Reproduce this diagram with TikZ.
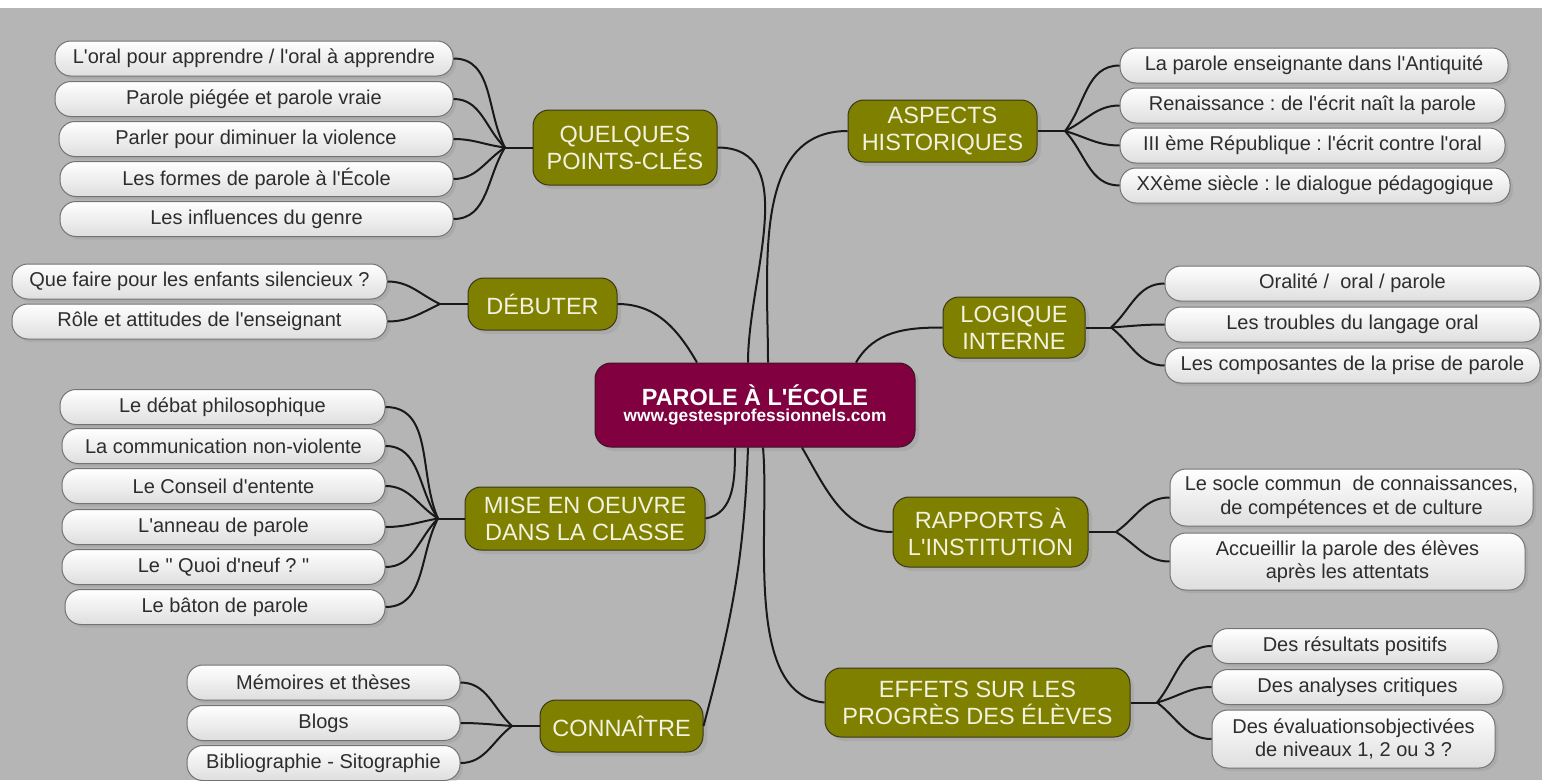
\documentclass[tikz,border=0pt]{standalone}
\usepackage{fontspec}
\setmainfont{Liberation Sans}[Ligatures=TeXOff]
\usetikzlibrary{shadows}
\frenchspacing

\definecolor{bggray}{RGB}{181,181,181}
\definecolor{branchfill}{RGB}{128,128,0}
\definecolor{branchline}{RGB}{55,55,25}
\definecolor{branchtext}{RGB}{242,242,225}
\definecolor{hubfill}{RGB}{128,0,64}
\definecolor{hubline}{RGB}{60,20,35}
\definecolor{leafline}{RGB}{115,115,115}
\definecolor{leafbottom}{RGB}{222,222,222}
\definecolor{leaftext}{RGB}{45,45,45}
\definecolor{linkcol}{RGB}{25,25,25}

\tikzset{
  leaf/.style={draw=leafline, line width=1pt, rounded corners=16pt,
    top color=white, bottom color=leafbottom, text=leaftext,
    font=\fontsize{20}{23.5}\selectfont, align=center, inner sep=0pt,
    minimum height=35pt,
    drop shadow={shadow xshift=3pt, shadow yshift=-3pt, opacity=.2}},
  branch/.style={fill=branchfill, draw=branchline, line width=1pt,
    rounded corners=16pt, text=branchtext,
    font=\fontsize{23.5}{27}\selectfont, align=center, inner sep=0pt,
    drop shadow={shadow xshift=4pt, shadow yshift=-4pt, opacity=.2}},
  hub/.style={fill=hubfill, draw=hubline, line width=1pt,
    rounded corners=16pt, text=white, align=center, inner sep=0pt,
    font=\bfseries\fontsize{17.3}{16.5}\selectfont,
    drop shadow={shadow xshift=4pt, shadow yshift=-4pt, opacity=.2}},
  link/.style={draw=linkcol, line width=2pt}
}

\begin{document}
\begin{tikzpicture}[x=1pt,y=-1pt]
  \useasboundingbox (0,0) rectangle (1542,780);
  \fill[bggray] (0,8) rectangle (1542,780);

  % centre
  \node[hub, minimum width=320pt, minimum height=84pt] (pe) at (755,405)
    {{\fontsize{23.4}{16.5}\selectfont PAROLE À L'ÉCOLE}\\www.gestesprofessionnels.com};

  % branches
  \node[branch, minimum width=184pt, minimum height=75pt] (pk) at (625,147.5) {QUELQUES\\POINTS-CLÉS};
  \node[branch, minimum width=149pt, minimum height=52pt] (deb) at (542.5,304) {DÉBUTER};
  \node[branch, minimum width=240pt, minimum height=63pt] (mo) at (585,518.5) {MISE EN OEUVRE\\DANS LA CLASSE};
  \node[branch, minimum width=163pt, minimum height=52pt] (con) at (621.5,726) {CONNAÎTRE};
  \node[branch, minimum width=189pt, minimum height=62pt] (ah) at (942.5,131) {ASPECTS\\HISTORIQUES};
  \node[branch, minimum width=142pt, minimum height=61pt] (li) at (1014,327.5) {LOGIQUE\\INTERNE};
  \node[branch, minimum width=195pt, minimum height=70pt] (ri) at (990.5,532) {RAPPORTS À\\L'INSTITUTION};
  \node[branch, minimum width=305pt, minimum height=69pt] (ep) at (977.5,702.5) {EFFETS SUR LES\\PROGRÈS DES ÉLÈVES};

  % leaves, left
  \node[leaf, minimum width=398pt] (pk1) at (254,58.5) {L'oral pour apprendre / l'oral à apprendre};
  \node[leaf, minimum width=398pt] (pk2) at (254,99) {Parole piégée et parole vraie};
  \node[leaf, minimum width=394pt] (pk3) at (256,139) {Parler pour diminuer la violence};
  \node[leaf, minimum width=393pt] (pk4) at (256.5,179) {Les formes de parole à l'École};
  \node[leaf, minimum width=393pt] (pk5) at (256.5,219) {Les influences du genre};

  \node[leaf, minimum width=375pt] (deb1) at (199.5,281.5) {Que faire pour les enfants silencieux ?};
  \node[leaf, minimum width=375pt] (deb2) at (199.5,321.5) {Rôle et attitudes de l'enseignant};

  \node[leaf, minimum width=325pt] (mo1) at (222.5,407) {Le débat philosophique};
  \node[leaf, minimum width=323pt] (mo2) at (223.5,446) {La communication non-violente};
  \node[leaf, minimum width=323pt] (mo3) at (223.5,486) {Le Conseil d'entente};
  \node[leaf, minimum width=323pt] (mo4) at (223.5,527) {L'anneau de parole};
  \node[leaf, minimum width=323pt] (mo5) at (223.5,567) {Le " Quoi d'neuf ? "};
  \node[leaf, minimum width=320pt] (mo6) at (225,607) {Le bâton de parole};

  \node[leaf, minimum width=273pt] (con1) at (323.5,682.5) {Mémoires et thèses};
  \node[leaf, minimum width=273pt] (con2) at (323.5,723) {Blogs};
  \node[leaf, minimum width=273pt] (con3) at (323.5,763) {Bibliographie - Sitographie};

  % leaves, right
  \node[leaf, minimum width=388pt] (ah1) at (1314,65.5) {La parole enseignante dans l'Antiquité};
  \node[leaf, minimum width=385pt] (ah2) at (1312.5,105.5) {Renaissance : de l'écrit naît la parole};
  \node[leaf, minimum width=385pt] (ah3) at (1312.5,145.5) {III ème République : l'écrit contre l'oral};
  \node[leaf, minimum width=390pt] (ah4) at (1315,185.5) {XXème siècle : le dialogue pédagogique};

  \node[leaf, minimum width=375pt] (li1) at (1352.5,283.5) {Oralité /~ oral / parole};
  \node[leaf, minimum width=375pt] (li2) at (1352.5,324.5) {Les troubles du langage oral};
  \node[leaf, minimum width=375pt] (li3) at (1352.5,365.5) {Les composantes de la prise de parole};

  \node[leaf, minimum width=363pt, minimum height=57pt] (ri1) at (1351.5,497.5) {Le socle commun~ de connaissances,\\de compétences et de culture};
  \node[leaf, minimum width=355pt, minimum height=57pt] (ri2) at (1347.5,561.5) {Accueillir la parole des élèves\\après les attentats};

  \node[leaf, minimum width=286pt] (ep1) at (1355,646) {Des résultats positifs};
  \node[leaf, minimum width=291pt] (ep2) at (1357.5,687) {Des analyses critiques};
  \node[leaf, minimum width=283pt, minimum height=58pt] (ep3) at (1353.5,739) {Des évaluationsobjectivées\\de niveaux 1, 2 ou 3 ?};

  % junctions
  \coordinate (jpk) at (505,147.5);
  \coordinate (jdeb) at (440,304);
  \coordinate (jmo) at (438,518.5);
  \coordinate (jcon) at (512,726);
  \coordinate (jah) at (1065,131);
  \coordinate (jli) at (1111,327.5);
  \coordinate (jri) at (1116,532);
  \coordinate (jep) at (1157,702.5);

  \begin{scope}[link]
    % centre to branches
    \draw (deb.east) to[out=0, in=120] ([xshift=-58pt]pe.north);
    \draw (pk.east) to[out=0, in=90] ([xshift=-7pt]pe.north);
    \draw ([xshift=13pt]pe.north) to[out=90, in=180] (ah.west);
    \draw ([xshift=101pt]pe.north) to[out=60, in=180] (li.west);
    \draw ([xshift=-20pt]pe.south) to[out=-90, in=10] (mo.east);
    \draw ([xshift=-7pt]pe.south) to[out=-92, in=75] (con.east);
    \draw ([xshift=8pt]pe.south) to[out=-85, in=175, looseness=0.8] (ep.west);
    \draw ([xshift=47pt]pe.south) to[out=-60, in=180] (ri.west);
    % junctions to branches
    \draw (jpk) -- (pk.west);
    \draw (jdeb) -- (deb.west);
    \draw (jmo) -- (mo.west);
    \draw (jcon) -- (con.west);
    \draw (jah) -- (ah.east);
    \draw (jli) -- (li.east);
    \draw (jri) -- (ri.east);
    \draw (jep) -- (ep.east);
    % leaves
    \foreach \n/\a in {pk1/118, pk2/136, pk3/173, pk4/213, pk5/238}
      \draw (\n.east) to[out=0, in=\a] (jpk);
    \foreach \n/\a in {deb1/155, deb2/205}
      \draw (\n.east) to[out=0, in=\a] (jdeb);
    \foreach \n/\a in {mo1/114, mo2/125, mo3/148, mo4/190, mo5/225, mo6/242}
      \draw (\n.east) to[out=0, in=\a] (jmo);
    \foreach \n/\a in {con1/137, con2/176, con3/217}
      \draw (\n.east) to[out=0, in=\a] (jcon);
    \foreach \n/\a in {ah1/52, ah2/25, ah3/-16, ah4/-47}
      \draw (jah) to[out=\a, in=180] (\n.west);
    \foreach \n/\a in {li1/42, li2/4, li3/-37}
      \draw (jli) to[out=\a, in=180] (\n.west);
    \foreach \n/\a in {ri1/35, ri2/-31}
      \draw (jri) to[out=\a, in=180] (\n.west);
    \foreach \n/\a in {ep1/50, ep2/15, ep3/-37}
      \draw (jep) to[out=\a, in=180] (\n.west);
  \end{scope}
\end{tikzpicture}
\end{document}
